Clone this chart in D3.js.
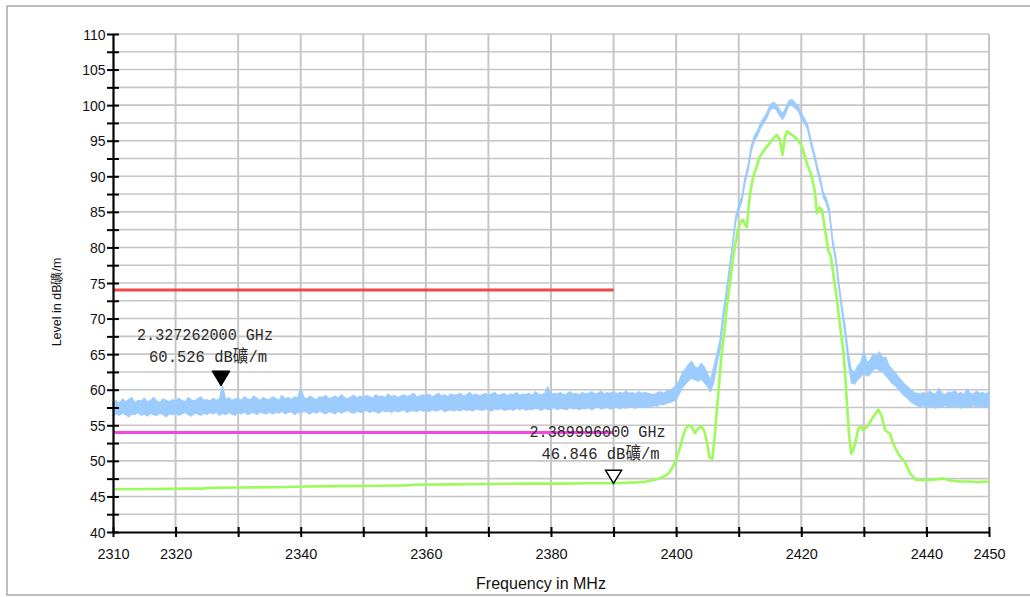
<!DOCTYPE html>
<html>
<head>
<meta charset="utf-8">
<script src="https://cdn.jsdelivr.net/npm/d3@7"></script>
<style>
  html, body { margin: 0; padding: 0; background: #fff; }
  svg { display: block; }
</style>
</head>
<body>
<svg id="chart" width="1030" height="597"></svg>
<script>
// ---- Spectrum sweep (peak trace), 0.5 MHz bins from 2310 MHz ----
const sweepStart = 2310;
const sweepStep = 0.5;

// Peak-hold trace: lower / upper envelope of each bin (dBuV/m)
const blueLow = [
  // 2310 - 2395.5
  56.3,56.6,56.4,56.7,56.5,56.2,56.6,56.5,56.8,56.4,
  56.6,56.3,56.7,56.5,56.4,56.7,56.5,56.2,56.6,56.5,
  56.7,56.4,56.6,56.8,56.5,56.3,56.7,56.6,56.4,56.7,
  56.5,56.8,56.6,56.9,56.4,56.7,56.5,56.8,56.6,56.4,
  56.8,56.6,56.9,56.5,56.7,56.8,56.5,56.9,56.7,56.6,
  56.9,56.6,56.8,56.7,57.0,56.6,56.8,56.9,56.5,56.8,
  56.7,57.0,56.8,56.6,56.9,56.7,57.0,56.8,56.6,56.9,
  56.8,56.6,57.0,56.7,56.9,57.1,56.8,56.7,57.0,56.8,
  56.9,57.1,56.8,57.0,56.9,56.7,57.1,56.9,57.0,56.8,
  57.1,56.9,57.0,57.2,56.8,57.0,57.1,56.9,57.2,57.0,
  57.1,56.9,57.2,57.0,57.1,57.3,56.9,57.1,57.2,57.0,
  57.2,57.0,57.3,57.1,57.2,57.0,57.3,57.2,57.1,57.3,
  57.2,57.0,57.3,57.2,57.4,57.1,57.2,57.3,57.1,57.4,
  57.2,57.4,57.1,57.3,57.2,57.4,57.3,57.1,57.4,57.2,
  57.3,57.5,57.2,57.4,57.3,57.2,57.5,57.3,57.4,57.2,
  57.4,57.3,57.5,57.2,57.4,57.6,57.3,57.4,57.5,57.3,
  57.4,57.6,57.3,57.5,57.4,57.6,57.5,57.4,57.7,57.5,57.6,57.5,
  // 2396 - 2438.5
  57.6,57.8,57.7,58.0,57.9,58.1,58.2,58.4,58.6,59.4,
  60.3,60.8,61.3,61.6,61.4,61.2,61.5,61.0,60.5,59.7,
  61.0,63.5,65.5,69.5,72.8,76.3,79.8,83.5,85.2,86.4,
  89.0,90.8,93.5,95.0,95.7,96.8,97.5,98.2,99.3,99.6,
  99.4,98.6,98.0,98.8,99.9,100.0,99.6,99.2,98.2,97.5,
  96.6,94.6,92.9,90.9,89.2,87.1,86.2,84.5,80.5,78.0,
  74.3,70.8,67.6,63.8,61.0,60.8,61.4,61.8,62.5,61.9,
  62.2,62.8,63.0,62.7,62.5,62.0,61.5,60.9,60.6,60.1,
  59.6,59.1,58.8,58.3,58.0,57.8,
  // 2439 - 2450
  57.6,57.8,57.5,57.7,57.6,57.4,57.7,57.5,57.8,57.6,
  57.5,57.7,57.6,57.4,57.7,57.6,57.5,57.8,57.6,57.5,57.7,57.6,57.5
];
const blueHigh = [
  // 2310 - 2395.5
  58.2,58.5,58.0,58.7,58.3,58.6,58.9,58.2,58.5,58.4,
  58.8,58.3,58.5,58.9,58.4,58.2,58.7,58.5,58.3,58.6,
  58.4,58.8,58.5,58.3,58.9,58.6,58.4,58.7,59.0,58.5,
  58.6,58.4,58.8,58.5,58.7,60.526,58.6,58.9,58.5,58.7,
  58.8,58.5,59.0,58.7,58.6,59.1,58.8,58.5,58.9,58.7,
  58.6,59.0,58.8,58.5,59.2,58.7,58.9,58.6,59.0,58.8,
  60.2,58.9,58.7,59.1,58.8,58.6,59.0,58.9,59.2,58.7,
  58.9,59.1,58.8,59.3,58.9,58.7,59.0,59.2,58.8,59.1,
  58.9,59.2,59.0,58.8,59.3,59.0,59.1,58.9,59.4,59.0,
  59.2,58.9,59.1,59.3,59.0,59.2,59.5,59.0,59.1,59.3,
  59.1,59.4,59.0,59.2,59.5,59.1,59.3,59.0,59.4,59.2,
  59.3,59.5,59.1,59.3,59.6,59.2,59.4,59.1,59.3,59.5,
  59.2,59.4,59.6,59.2,59.3,59.5,59.1,59.4,59.3,59.6,
  59.2,59.4,59.3,59.5,59.2,59.7,59.4,59.3,59.5,60.4,
  59.3,59.5,59.4,59.6,59.3,59.4,59.7,59.4,59.5,59.3,
  59.6,59.4,59.5,59.7,59.4,59.5,59.8,59.4,59.6,59.5,
  59.7,59.4,59.6,59.5,59.8,59.5,59.6,59.4,59.7,59.5,59.6,59.5,
  // 2396 - 2438.5
  59.4,59.3,59.6,59.7,59.5,59.8,59.9,60.2,60.6,61.3,
  62.4,62.9,63.6,64.0,63.2,63.0,63.7,63.2,62.3,61.3,
  63.2,65.0,67.0,70.8,73.8,77.2,80.6,84.3,86.0,87.2,
  89.8,91.6,94.3,95.7,96.4,97.5,98.2,98.9,100.0,100.4,
  100.1,99.4,98.8,99.6,100.6,100.8,100.3,99.9,98.9,98.1,
  97.3,95.3,93.6,91.6,89.9,87.8,86.9,85.3,81.3,78.8,
  75.2,71.8,69.0,65.3,62.8,62.5,63.3,63.8,65.5,63.8,
  64.2,65.0,64.8,65.3,64.5,64.6,63.4,62.9,62.4,61.8,
  61.3,60.8,60.4,60.0,59.6,59.5,
  // 2439 - 2450
  59.4,59.6,59.3,59.8,59.5,59.4,60.2,59.5,59.3,59.7,
  59.5,59.9,59.4,59.6,59.3,60.1,59.5,59.4,59.8,59.5,59.6,59.4,59.7
];

// Average trace (MHz, dBuV/m)
const greenFreq = [
  2310,2316,2322,2324.5,2325,2330,2336,2341,2346,2352,2357,2358,2364,2370,2376,2382,2386,2390,
  2393,2395,2396.5,2397.5,2398.5,2399,2399.5,2400,2400.5,2401,2401.5,2402,2402.5,2403,2403.5,
  2404,2404.5,2405,2405.3,2405.8,2406.2,2406.5,2406.8,2407.1,2407.4,2407.8,2408.1,2408.6,
  2408.9,2409.4,2409.9,2410.3,2410.7,2411.0,2411.3,2411.5,2411.8,2412.3,2412.8,2413.4,2414.0,
  2414.5,2415.0,2415.5,2416.1,2416.6,2417.0,2417.4,2417.7,2418.2,2418.5,2419.3,2420.1,2420.9,
  2421.7,2422.2,2422.5,2422.9,2423.3,2423.8,2424.3,2424.7,2425.1,2425.7,2426.2,2426.7,2427.0,
  2427.3,2427.6,2428.0,2428.3,2428.6,2429.1,2429.5,2429.9,2430.3,2430.7,2431.5,2432.3,2432.8,
  2433.4,2434.2,2434.7,2435.5,2436.0,2436.6,2437.4,2438.4,2440.0,2441.5,2442.7,2444.0,2445.4,
  2447.0,2448.0,2450.0
];
const greenLevel = [
  46.0,46.05,46.1,46.1,46.2,46.25,46.3,46.4,46.45,46.5,46.55,46.65,46.7,46.75,46.8,46.8,46.85,46.85,
  46.95,47.05,47.3,47.6,48.0,48.5,49.2,50.2,51.5,53.2,54.5,55.0,54.8,53.9,54.5,
  54.9,54.2,52.3,50.5,50.3,53.8,57.1,60.0,63.5,66.0,68.9,71.7,75.0,
  77.3,80.1,82.5,83.6,83.9,83.2,82.9,84.8,87.5,89.9,91.2,92.8,93.6,
  94.2,94.7,95.3,95.8,95.1,93.0,95.6,96.3,96.0,95.8,95.3,94.2,91.8,
  89.9,87.6,84.8,85.6,85.3,82.5,79.6,78.8,76.4,72.6,68.9,65.6,62.3,
  58.0,54.0,51.0,51.6,52.4,54.5,54.8,54.3,54.6,55.0,56.2,57.2,56.4,
  54.3,53.8,52.4,51.0,50.4,49.8,48.2,47.3,47.3,47.4,47.5,47.2,47.1,
  47.1,47.0,47.1
];

// Limit lines (level in dBuV/m, drawn up to limitEnd MHz)
const limitLevels = [74, 54];
const limitEnd = 2390;

// Markers
const markerFreq = [2327.262, 2389.996];
const markerLevel = [60.526, 46.846];
const markerFilled = [true, false];

// Axis ticks
const xTickValues = [2310,2320,2330,2340,2350,2360,2370,2380,2390,2400,2410,2420,2430,2440,2450];
const xTickLabels = [2310,2320,2340,2360,2380,2400,2420,2440,2450];
const yTickValues = d3.range(40, 110.01, 2.5);
const yTickLabels = [40,45,50,55,60,65,70,75,80,85,90,95,100,105,110];

// ---- Styles ----
const blueColor = "#9ccbfd";
const greenColor = "#9cfb5a";
const limitColors = ["#f24848", "#f048e0"];
const gridColor = "#c6c6c6";
const sansFont = "'Liberation Sans', Arial, sans-serif";
const monoFont = "'Liberation Mono', 'Noto Sans CJK SC', monospace";

const svg = d3.select("#chart");

// Outer frame
svg.append("rect")
  .attr("x", 7).attr("y", 6).attr("width", 1040).attr("height", 589)
  .attr("fill", "#fff").attr("stroke", "#a8a8a8").attr("stroke-width", 1.5);

const x = d3.scaleLinear().domain([2310, 2450]).range([113, 989]);
const y = d3.scaleLinear().domain([40, 110]).range([532, 34]);

// Grid
const grid = svg.append("g");
grid.selectAll("line.h")
  .data(yTickValues.filter(v => v > 40))
  .join("line")
  .attr("x1", x(2310)).attr("x2", x(2450))
  .attr("y1", d => y(d)).attr("y2", d => y(d))
  .attr("stroke", gridColor).attr("stroke-width", 1.6);
grid.selectAll("line.v")
  .data(xTickValues.filter(v => v > 2310))
  .join("line")
  .attr("x1", d => x(d)).attr("x2", d => x(d))
  .attr("y1", y(110)).attr("y2", y(40))
  .attr("stroke", gridColor).attr("stroke-width", 2);

// Limit lines
svg.append("g").selectAll("line")
  .data(limitLevels)
  .join("line")
  .attr("x1", x(2310)).attr("x2", x(limitEnd))
  .attr("y1", d => y(d)).attr("y2", d => y(d))
  .attr("stroke", (d, i) => limitColors[i]).attr("stroke-width", 3);

// Peak trace as envelope band
const blueIdx = d3.range(blueLow.length);
const blueArea = d3.area()
  .x(i => x(sweepStart + i * sweepStep))
  .y0(i => y(blueLow[i]))
  .y1(i => y(blueHigh[i]));
svg.append("path")
  .datum(blueIdx)
  .attr("d", blueArea)
  .attr("fill", blueColor)
  .attr("stroke", blueColor)
  .attr("stroke-width", 1.2)
  .attr("stroke-linejoin", "round");

// Average trace
const greenLine = d3.line()
  .x((d, i) => x(greenFreq[i]))
  .y(d => y(d));
svg.append("path")
  .datum(greenLevel)
  .attr("d", greenLine)
  .attr("fill", "none")
  .attr("stroke", greenColor)
  .attr("stroke-width", 2.6)
  .attr("stroke-linejoin", "round");

// Y axis
const yAxis = d3.axisLeft(y)
  .tickValues(yTickValues)
  .tickSizeOuter(0)
  .tickFormat(d => yTickLabels.includes(d) ? d3.format("d")(d) : "");
const gy = svg.append("g").attr("transform", `translate(${x(2310)},0)`).call(yAxis);
gy.select(".domain").attr("stroke", "#000").attr("stroke-width", 2.2);
gy.selectAll(".tick line").attr("x1", 6).attr("x2", -6).attr("stroke", "#000").attr("stroke-width", 2);
gy.selectAll(".tick text")
  .attr("x", -7.5).attr("dy", "0.36em")
  .attr("font-family", sansFont).attr("font-size", 14).attr("fill", "#111");

// X axis
const xAxis = d3.axisBottom(x)
  .tickValues(xTickValues)
  .tickSizeOuter(0)
  .tickFormat(d => xTickLabels.includes(d) ? d3.format("d")(d) : "");
const gx = svg.append("g").attr("transform", `translate(0,${y(40)})`).call(xAxis);
gx.select(".domain").attr("stroke", "#000").attr("stroke-width", 2.2);
gx.selectAll(".tick line").attr("y1", -5).attr("y2", 5).attr("stroke", "#000").attr("stroke-width", 2);
gx.selectAll(".tick text")
  .attr("y", 27).attr("dy", null)
  .attr("font-family", sansFont).attr("font-size", 14.5).attr("fill", "#111");

// Axis titles
svg.append("text")
  .attr("x", 541).attr("y", 589)
  .attr("text-anchor", "middle")
  .attr("font-family", sansFont).attr("font-size", 16).attr("fill", "#111")
  .text("Frequency in MHz");
svg.append("text")
  .attr("transform", "translate(61,302) rotate(-90)")
  .attr("text-anchor", "middle")
  .attr("font-family", sansFont).attr("font-size", 12.5).attr("fill", "#111")
  .text("Level in dB礦/m");

// Markers
const markers = svg.append("g").selectAll("g")
  .data(markerFreq.map((f, i) => ({ f, v: markerLevel[i], filled: markerFilled[i] })))
  .join("g")
  .attr("transform", d => `translate(${x(d.f)},${y(d.v)})`);
markers.append("path")
  .attr("d", d => d.filled ? "M-9,-15 L9,-15 L0,0 Z" : "M-8,-13 L8,-13 L0,0 Z")
  .attr("fill", d => d.filled ? "#000" : "#fff")
  .attr("stroke", "#000")
  .attr("stroke-width", d => d.filled ? 1 : 1.5)
  .attr("stroke-linejoin", "miter");
markers.append("text")
  .attr("x", -16).attr("y", -46)
  .attr("text-anchor", "middle")
  .attr("font-family", monoFont).attr("font-size", 17).attr("fill", "#2a2a2a")
  .attr("textLength", 136).attr("lengthAdjust", "spacingAndGlyphs")
  .text(d => `${(d.f / 1000).toFixed(9)} GHz`);
markers.append("text")
  .attr("x", -13).attr("y", -24)
  .attr("text-anchor", "middle")
  .attr("font-family", monoFont).attr("font-size", 17).attr("fill", "#2a2a2a")
  .attr("textLength", 118).attr("lengthAdjust", "spacingAndGlyphs")
  .text(d => `${d.v.toFixed(3)} dB礦/m`);
</script>
</body>
</html>
